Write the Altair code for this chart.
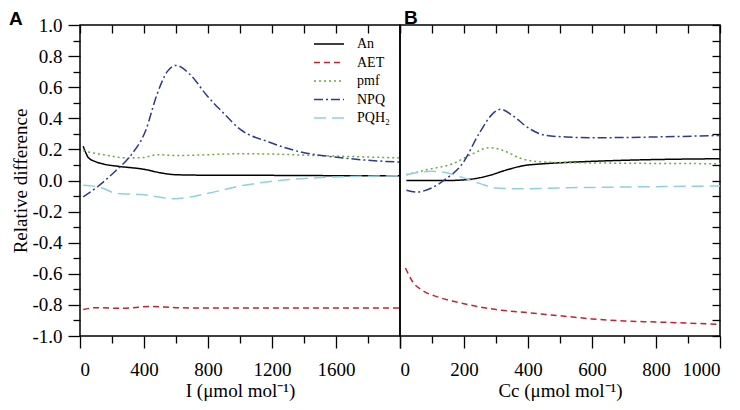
import altair as alt
import pandas as pd

series = ["An", "AET", "pmf", "NPQ", "PQH₂"]
colors = ["#000000", "#c8202f", "#6aab3e", "#2f3a8f", "#8fd0e0"]
dashes = [[1, 0], [6, 4], [2, 3], [9, 3, 2, 3], [12, 6]]

# ---- Panel A : light intensity I ----
a_an_x = [20, 40, 50, 100, 150, 250, 400, 500, 600, 800, 1200, 1600, 2000]
a_an_y = [0.22, 0.17, 0.15, 0.12, 0.105, 0.09, 0.072, 0.05, 0.037, 0.034, 0.033, 0.031, 0.03]
a_aet_x = [20, 100, 250, 450, 600, 800, 1200, 1600, 2000]
a_aet_y = [-0.83, -0.818, -0.822, -0.81, -0.818, -0.82, -0.82, -0.82, -0.82]
a_pmf_x = [20, 150, 300, 400, 480, 600, 800, 1000, 1200, 1400, 1600, 2000]
a_pmf_y = [0.19, 0.165, 0.145, 0.148, 0.166, 0.16, 0.166, 0.172, 0.17, 0.163, 0.157, 0.145]
a_npq_x = [20, 110, 220, 320, 410, 480, 545, 600, 690, 790, 900, 1000, 1180, 1380, 1590, 1800, 2000]
a_npq_y = [-0.105, -0.04, 0.06, 0.165, 0.32, 0.55, 0.70, 0.74, 0.68, 0.55, 0.43, 0.33, 0.248, 0.183, 0.151, 0.13, 0.118]
a_pq_x = [20, 130, 230, 380, 590, 790, 1000, 1180, 1390, 1600, 2000]
a_pq_y = [-0.03, -0.045, -0.083, -0.09, -0.117, -0.085, -0.035, -0.008, 0.012, 0.023, 0.03]

# ---- Panel B : chloroplast CO2 Cc ----
b_an_x = [20, 150, 220, 280, 330, 380, 450, 520, 700, 1000]
b_an_y = [0.0, 0.0, 0.008, 0.033, 0.066, 0.093, 0.108, 0.116, 0.13, 0.14]
b_aet_x = [17, 40, 70, 120, 200, 300, 400, 500, 600, 700, 800, 1000]
b_aet_y = [-0.563, -0.653, -0.707, -0.75, -0.792, -0.83, -0.85, -0.87, -0.89, -0.903, -0.91, -0.925]
b_pmf_x = [20, 90, 165, 225, 280, 320, 380, 450, 520, 1000]
b_pmf_y = [0.037, 0.072, 0.108, 0.17, 0.211, 0.195, 0.14, 0.119, 0.115, 0.108]
b_npq_x = [20, 50, 145, 195, 250, 290, 315, 350, 405, 455, 520, 600, 800, 1000]
b_npq_y = [-0.063, -0.074, 0.012, 0.108, 0.312, 0.43, 0.458, 0.42, 0.333, 0.29, 0.28, 0.275, 0.28, 0.29]
b_pq_x = [20, 100, 145, 195, 250, 300, 380, 520, 700, 1000]
b_pq_y = [0.037, 0.059, 0.05, 0.02, -0.02, -0.048, -0.053, -0.047, -0.042, -0.035]

x_ticks_a = [0, 200, 400, 600, 800, 1000, 1200, 1400, 1600, 1800, 2000]
x_ticks_b = [0, 100, 200, 300, 400, 500, 600, 700, 800, 900, 1000]
y_ticks = [-1.0, -0.9, -0.8, -0.7, -0.6, -0.5, -0.4, -0.3, -0.2, -0.1, 0.0,
           0.1, 0.2, 0.3, 0.4, 0.5, 0.6, 0.7, 0.8, 0.9, 1.0]


def frame(parts):
    rows = []
    for name, xs, ys in parts:
        for x, y in zip(xs, ys):
            rows.append({"series": name, "x": x, "y": y})
    return pd.DataFrame(rows)


df_a = frame([("An", a_an_x, a_an_y), ("AET", a_aet_x, a_aet_y), ("pmf", a_pmf_x, a_pmf_y),
              ("NPQ", a_npq_x, a_npq_y), ("PQH₂", a_pq_x, a_pq_y)])
df_b = frame([("An", b_an_x, b_an_y), ("AET", b_aet_x, b_aet_y), ("pmf", b_pmf_x, b_pmf_y),
              ("NPQ", b_npq_x, b_npq_y), ("PQH₂", b_pq_x, b_pq_y)])

WA, WB, H = 320, 320, 311
SERIF = "Liberation Serif"
TXT = dict(labelFont=SERIF, labelFontSize=19, labelColor="black",
           titleFont=SERIF, titleFontSize=19, titleFontWeight="normal", titleColor="black",
           tickColor="black", tickWidth=1.3, domain=False, grid=False,
           minExtent=0)

y_scale = alt.Scale(domain=[-1, 1], nice=False, zero=False)
xa_scale = alt.Scale(domain=[0, 2000], nice=False)
xb_scale = alt.Scale(domain=[0, 1000], nice=False)

even_y = "abs(round(datum.value*10)) % 2 == 0"
y_label = ("abs(round(datum.value*10)) % 2 == 0 ? "
           "(datum.value < -0.001 ? '-' : '') + format(abs(datum.value), '.1f') : ''")


def cond(test, major, minor):
    return {"condition": {"test": test, "value": major}, "value": minor}


legend = alt.Legend(orient="none", legendX=WA - 87, legendY=11, title=None,
                    symbolType="stroke", symbolSize=900, symbolStrokeWidth=1.5,
                    labelFont=SERIF, labelFontSize=14, labelColor="black",
                    labelOffset=12, clipHeight=16, rowPadding=2.5, padding=0)

color_a = alt.Color("series:N", scale=alt.Scale(domain=series, range=colors), legend=legend)
dash_a = alt.StrokeDash("series:N", scale=alt.Scale(domain=series, range=dashes), legend=legend)
color_b = alt.Color("series:N", scale=alt.Scale(domain=series, range=colors), legend=None)
dash_b = alt.StrokeDash("series:N", scale=alt.Scale(domain=series, range=dashes), legend=None)

# inward ticks: an axis pulled inside the frame by a negative offset
IN_TICK = 8

# Panel A
a_lines = alt.Chart(df_a).mark_line(interpolate="monotone", strokeWidth=1.5).encode(
    x=alt.X("x:Q", scale=xa_scale, title="I (μmol mol⁻¹)",
            axis=alt.Axis(orient="bottom", values=x_ticks_a, format="d",
                          labelExpr="datum.value % 400 == 0 && datum.value < 2000 ? datum.label : ''",
                          tickSize=cond("datum.value % 400 == 0", 12, 7),
                          labelPadding=12, titlePadding=2, **TXT)),
    y=alt.Y("y:Q", scale=y_scale, title="Relative difference",
            axis=alt.Axis(orient="left", values=y_ticks, labelExpr=y_label,
                          tickSize=cond(even_y, 12, 7), labelPadding=6, titlePadding=1, **TXT)),
    color=color_a, strokeDash=dash_a)

a_frame = alt.Chart(df_a).mark_point(opacity=0).encode(
    x=alt.X("x:Q", scale=xa_scale, title=None,
            axis=alt.Axis(orient="top", values=x_ticks_a, labels=False, maxExtent=0,
                          offset=-IN_TICK, tickSize=IN_TICK, **TXT)),
    y=alt.Y("y:Q", scale=y_scale, axis=None))

panel_a = alt.layer(a_lines, a_frame).resolve_axis(x="independent", y="independent").properties(
    width=WA, height=H,
    title=alt.Title("A", anchor="start", frame="bounds", font="Liberation Sans", fontSize=19,
                    fontWeight="bold", baseline="alphabetic", offset=3, dy=31, dx=-3,
                    color="black"))

# Panel B
b_lines = alt.Chart(df_b).mark_line(interpolate="monotone", strokeWidth=1.5).encode(
    x=alt.X("x:Q", scale=xb_scale, title="Cc (μmol mol⁻¹)",
            axis=alt.Axis(orient="bottom", values=x_ticks_b, format="d",
                          labelExpr="datum.value % 200 == 0 ? datum.label : ''",
                          tickSize=cond("datum.value % 200 == 0", 12, 7),
                          labelPadding=12, titlePadding=2, **TXT)),
    y=alt.Y("y:Q", scale=y_scale, axis=None),
    color=color_b, strokeDash=dash_b)

b_frame = alt.Chart(df_b).mark_point(opacity=0).encode(
    x=alt.X("x:Q", scale=xb_scale, title=None,
            axis=alt.Axis(orient="top", values=x_ticks_b, labels=False, maxExtent=0,
                          offset=-IN_TICK, tickSize=IN_TICK, **TXT)),
    y=alt.Y("y:Q", scale=y_scale, title=None,
            axis=alt.Axis(orient="right", values=y_ticks, labels=False, maxExtent=0,
                          offset=-IN_TICK, tickSize=IN_TICK, **TXT)))

panel_b = alt.layer(b_lines, b_frame).resolve_axis(x="independent", y="independent").properties(
    width=WB, height=H,
    title=alt.Title("B", anchor="start", frame="group", font="Liberation Sans", fontSize=19,
                    fontWeight="bold", baseline="alphabetic", offset=3, dy=22, dx=4,
                    color="black"))

chart = alt.hconcat(panel_a, panel_b, spacing=0, bounds="flush").resolve_scale(
    color="independent", strokeDash="independent").properties(padding=0).configure_view(
    stroke="black", strokeWidth=1.5)

chart.save("out.html", embed_options={"renderer": "svg", "actions": False})
